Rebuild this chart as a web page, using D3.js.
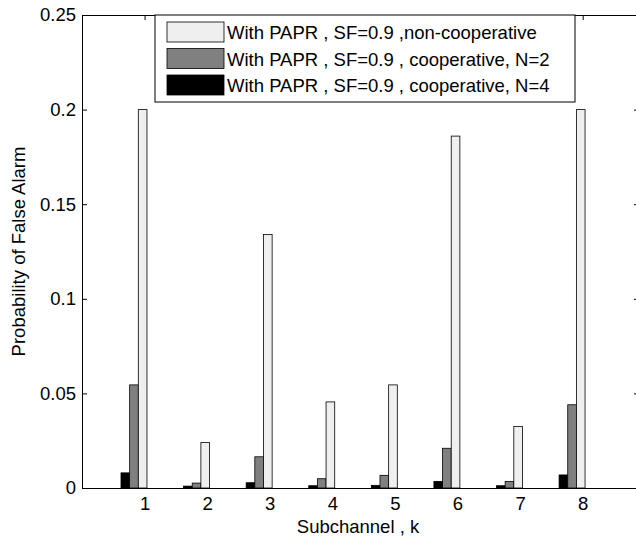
<!DOCTYPE html>
<html lang="en">
<head>
<meta charset="UTF-8"/>
<title>Probability of False Alarm per Subchannel</title>
<script src="https://d3js.org/d3.v7.min.js"></script>
<style type="text/css">
  body { margin: 0; background: #fff; }
  svg { display: block; font-family: "Liberation Sans", Arial, Helvetica, sans-serif; }
  .axis text { font-size: 18.5px; fill: #000; }
  .axis path, .axis line { stroke: #000; }
  .bar { stroke: #000; stroke-width: 0.8; }
</style>
</head>
<body>
<script>

// data
var subchannels = [1, 2, 3, 4, 5, 6, 7, 8];
var nonCoop = [0.200, 0.024, 0.134, 0.0455, 0.0545, 0.186, 0.0325, 0.200];
var coopN2  = [0.0545, 0.0026, 0.0165, 0.0049, 0.0067, 0.021, 0.0035, 0.044];
var coopN4  = [0.008, 0.001, 0.0028, 0.0012, 0.0014, 0.0035, 0.0012, 0.0069];
var yTicks = [0, 0.05, 0.1, 0.15, 0.2, 0.25];

var seriesNames = [
  "With PAPR , SF=0.9 ,non-cooperative",
  "With PAPR , SF=0.9 , cooperative, N=2",
  "With PAPR , SF=0.9 , cooperative, N=4"
];
var seriesColors = ["#efefef", "#808080", "#000000"];
var seriesValues = [nonCoop, coopN2, coopN4];
// bars drawn left to right: N=4, N=2, non-cooperative
var barOrder = [2, 1, 0];

var W = 636, H = 541;
var margin = {top: 15, right: 0, bottom: 53, left: 82};
var plotRight = 639;   // right frame sits just past the picture edge
var width = plotRight - margin.left,
    height = H - margin.top - margin.bottom;

var x = d3.scaleLinear().domain([0, 8.9]).range([0, width]);
var y = d3.scaleLinear().domain([0, 0.25]).range([height, 0]);

// offset of each bar within a group, in subchannel units
var offset = d3.scaleBand().domain(barOrder).range([-0.377, 0.038]).padding(0);

var svg = d3.select("body").append("svg")
    .attr("width", W)
    .attr("height", H);

var g = svg.append("g")
    .attr("transform", "translate(" + margin.left + "," + margin.top + ")");

// axes first so the bars sit on top of the inward ticks
g.append("g")
    .attr("class", "axis")
    .attr("transform", "translate(0," + height + ")")
    .call(d3.axisBottom(x).tickValues(subchannels).tickSize(-5).tickPadding(9).tickSizeOuter(0));

g.append("g")
    .attr("class", "axis")
    .call(d3.axisTop(x).tickValues(subchannels).tickSize(-5).tickFormat("").tickSizeOuter(0));

g.append("g")
    .attr("class", "axis")
    .call(d3.axisLeft(y).tickValues(yTicks).tickSize(-5).tickPadding(6).tickSizeOuter(0)
      .tickFormat(function(d) { return d3.format("")(d); }));

g.append("g")
    .attr("class", "axis")
    .attr("transform", "translate(" + width + ",0)")
    .call(d3.axisRight(y).tickValues(yTicks).tickSize(-5).tickFormat("").tickSizeOuter(0));

// bars
barOrder.forEach(function(s) {
  g.selectAll(".bar-s" + s)
    .data(subchannels.map(function(k, i) { return {k: k, v: seriesValues[s][i]}; }))
    .enter().append("rect")
      .attr("class", "bar")
      .attr("x", function(d) { return x(d.k + offset(s)); })
      .attr("width", x(offset.bandwidth()) - x(0))
      .attr("y", function(d) { return y(d.v); })
      .attr("height", function(d) { return height - y(d.v); })
      .attr("fill", seriesColors[s]);
});

// axis titles
svg.append("text")
    .attr("x", 358)
    .attr("y", 533)
    .attr("text-anchor", "middle")
    .style("font-size", "18.5px")
    .text("Subchannel , k");

svg.append("text")
    .attr("transform", "translate(25," + (margin.top + height / 2) + ") rotate(-90)")
    .attr("text-anchor", "middle")
    .style("font-size", "18.5px")
    .text("Probability of False Alarm");

// legend
var legend = svg.append("g").attr("transform", "translate(155,15)");
legend.append("rect")
    .attr("width", 420)
    .attr("height", 87)
    .attr("fill", "#fff")
    .attr("stroke", "#000")
    .attr("stroke-width", 1);

seriesNames.forEach(function(name, i) {
  var row = legend.append("g").attr("transform", "translate(12," + (7 + i * 26.5) + ")");
  row.append("rect")
      .attr("width", 57)
      .attr("height", 20)
      .attr("fill", seriesColors[i])
      .attr("stroke", "#000")
      .attr("stroke-width", 0.8);
  row.append("text")
      .attr("x", 60)
      .attr("y", 17)
      .style("font-size", "18.5px")
      .text(name);
});

</script>
</body>
</html>
